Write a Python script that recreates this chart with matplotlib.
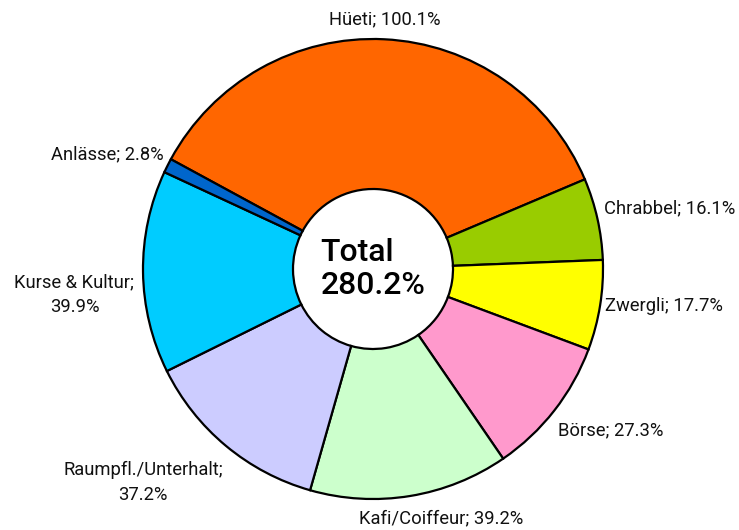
import matplotlib
matplotlib.use("Agg")
import matplotlib.pyplot as plt
import numpy as np

categories = ["Hüeti", "Chrabbel", "Zwergli", "Börse", "Kafi/Coiffeur",
              "Raumpfl./Unterhalt", "Kurse & Kultur", "Anlässe"]
values = [100.1, 16.1, 17.7, 27.3, 39.2, 37.2, 39.9, 2.8]
label_texts = ["Hüeti; 100.1%", "Chrabbel; 16.1%", "Zwergli; 17.7%", "Börse; 27.3%",
               "Kafi/Coiffeur; 39.2%", "Raumpfl./Unterhalt;\n37.2%",
               "Kurse & Kultur;\n39.9%", "Anlässe; 2.8%"]
colors = ["#FF6600", "#99CC00", "#FFFF00", "#FF99CC", "#CCFFCC",
          "#CCCCFF", "#00CCFF", "#0066CC"]
total_text = "Total\n280.2%"

# per-label nudges (pixels)
nudges = [(0, 6), (2, 0), (0, 0), (0, -8), (30, -9), (0, -12), (-4, -23), (0, 0)]

plt.rcParams['font.family'] = ['Roboto', 'DejaVu Sans']

fig = plt.figure(figsize=(7.39, 5.30), dpi=100)
ax = fig.add_axes([0, 0, 1, 1])

cx, cy, R, r_in = 373, 261, 230, 80
wedges, _ = ax.pie(values, colors=colors, startangle=151.5, counterclock=False,
                   center=(cx, cy), radius=R, frame=True,
                   wedgeprops=dict(width=R - r_in, edgecolor='black', linewidth=1.6))
ax.set_xlim(0, 739)
ax.set_ylim(0, 530)
ax.set_aspect('equal')
ax.axis('off')

for w, txt, (dx, dy) in zip(wedges, label_texts, nudges):
    ang = np.deg2rad((w.theta1 + w.theta2) / 2)
    c, s = np.cos(ang), np.sin(ang)
    x = cx + 1.02 * R * c + dx
    y = cy + 1.02 * R * s + dy
    ha = 'left' if c > 0.2 else ('right' if c < -0.2 else 'center')
    va = 'bottom' if s > 0.2 else ('top' if s < -0.2 else 'center')
    ax.text(x, y, txt, ha=ha, va=va, fontsize=13.2, color='#111111',
            fontweight='normal', multialignment='center', linespacing=1.45)

ax.text(cx, cy, total_text, ha='center', va='center', fontsize=23,
        fontweight='medium', multialignment='left', linespacing=1.15)

fig.savefig("out.png", dpi=100)
